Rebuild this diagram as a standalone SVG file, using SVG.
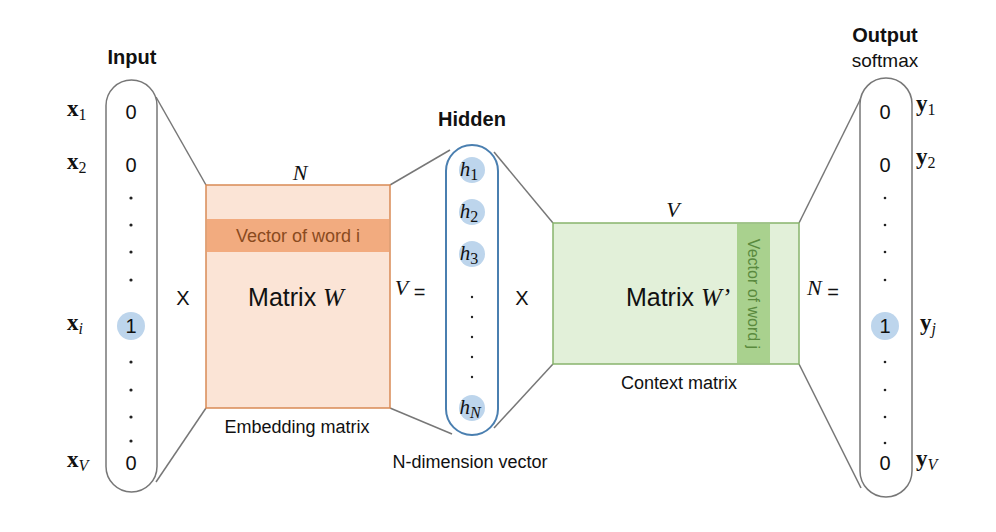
<svg xmlns="http://www.w3.org/2000/svg" width="996" height="532" viewBox="0 0 996 532">
<style>
.sans{font-family:"Liberation Sans",Arial,sans-serif;fill:#111}
.b{font-weight:bold}
.math{font-family:"Liberation Serif","Times New Roman",serif;fill:#111}
.mb{font-family:"Liberation Serif","Times New Roman",serif;font-weight:bold;fill:#111;font-size:23px}
.sub{font-family:"Liberation Serif","Times New Roman",serif;font-style:italic;font-weight:normal;font-size:16px}
.subn{font-family:"Liberation Serif","Times New Roman",serif;font-style:normal;font-weight:normal;font-size:16px}
.pill{fill:#fff;stroke:#777;stroke-width:1.5}
.conn{stroke:#777;stroke-width:1.5;fill:none}
.dot{fill:#222}
.hl{fill:#bdd5ec}
.val{font-family:"Liberation Sans",Arial,sans-serif;font-size:20px;fill:#111;text-anchor:middle}
</style>
<rect width="996" height="532" fill="#fff"/>
<g id="connectors">
<line class="conn" x1="156" y1="97" x2="206" y2="185"/>
<line class="conn" x1="156" y1="482" x2="206" y2="408"/>
<line class="conn" x1="390" y1="185" x2="450" y2="150"/>
<line class="conn" x1="390" y1="408" x2="452" y2="434"/>
<line class="conn" x1="494" y1="152" x2="553" y2="223"/>
<line class="conn" x1="494" y1="428" x2="553" y2="364"/>
<line class="conn" x1="861" y1="98" x2="799" y2="223"/>
<line class="conn" x1="861" y1="488" x2="799" y2="364"/>
</g>
<g id="input">
<text class="sans b" x="132" y="64" font-size="20" text-anchor="middle">Input</text>
<rect class="pill" x="106" y="80" width="51" height="412" rx="25.5"/>
<text class="val" x="131" y="119">0</text>
<text class="val" x="131" y="172">0</text>
<circle class="dot" cx="131" cy="198" r="1.6"/><circle class="dot" cx="131" cy="225" r="1.6"/><circle class="dot" cx="131" cy="252" r="1.6"/><circle class="dot" cx="131" cy="280" r="1.6"/>
<circle class="hl" cx="131" cy="326" r="14"/>
<text class="val" x="131" y="333">1</text>
<circle class="dot" cx="131" cy="362" r="1.6"/><circle class="dot" cx="131" cy="390" r="1.6"/><circle class="dot" cx="131" cy="417" r="1.6"/><circle class="dot" cx="131" cy="441" r="1.6"/>
<text class="val" x="131" y="470">0</text>
<text class="mb" x="67" y="116">x<tspan class="subn" dy="4">1</tspan></text>
<text class="mb" x="67" y="169">x<tspan class="subn" dy="4">2</tspan></text>
<text class="mb" x="67" y="330">x<tspan class="sub" dy="4">i</tspan></text>
<text class="mb" x="67" y="467">x<tspan class="sub" dy="4">V</tspan></text>
</g>
<text class="sans" x="183" y="305" font-size="20" text-anchor="middle">X</text>
<g id="embedding">
<rect x="206" y="185" width="184" height="223" fill="#fbe4d6" stroke="#d98a55" stroke-width="1.5"/>
<rect x="207" y="219" width="182" height="33" fill="#f2ab7f"/>
<text class="math" x="300" y="180" font-size="22" font-style="italic" text-anchor="middle">N</text>
<text class="sans" x="298" y="242" font-size="18" style="fill:#8a4a1e" text-anchor="middle">Vector of word i</text>
<text class="sans" x="296" y="306" font-size="25" text-anchor="middle">Matrix <tspan class="math" font-style="italic">W</tspan></text>
<text class="sans" x="297" y="433" font-size="18" text-anchor="middle">Embedding matrix</text>
</g>
<text x="410" y="295" font-size="22" text-anchor="middle"><tspan class="math" font-style="italic">V</tspan><tspan class="sans" font-size="20" dy="4"> =</tspan></text>
<g id="hidden">
<text class="sans b" x="472" y="126" font-size="20" text-anchor="middle">Hidden</text>
<rect x="446" y="145" width="52" height="290" rx="26" fill="#fff" stroke="#4a7fb0" stroke-width="2"/>
<circle class="hl" cx="472" cy="170" r="13"/>
<circle class="hl" cx="472" cy="212" r="13"/>
<circle class="hl" cx="472" cy="254" r="13"/>
<circle class="hl" cx="472" cy="408" r="13"/>
<text class="math" x="469" y="176" font-size="21" font-style="italic" text-anchor="middle">h<tspan class="subn" dy="4">1</tspan></text>
<text class="math" x="469" y="218" font-size="21" font-style="italic" text-anchor="middle">h<tspan class="subn" dy="4">2</tspan></text>
<text class="math" x="469" y="260" font-size="21" font-style="italic" text-anchor="middle">h<tspan class="subn" dy="4">3</tspan></text>
<text class="math" x="470" y="414" font-size="21" font-style="italic" text-anchor="middle">h<tspan class="sub" dy="4">N</tspan></text>
<circle class="dot" cx="472" cy="297" r="1.2"/><circle class="dot" cx="472" cy="317" r="1.2"/><circle class="dot" cx="472" cy="337" r="1.2"/><circle class="dot" cx="472" cy="357" r="1.2"/><circle class="dot" cx="472" cy="377" r="1.2"/>
<text class="sans" x="470" y="468" font-size="18" text-anchor="middle">N-dimension vector</text>
</g>
<text class="sans" x="522" y="305" font-size="20" text-anchor="middle">X</text>
<g id="context">
<rect x="553" y="223" width="246" height="141" fill="#e2f0d9" stroke="#88b46c" stroke-width="1.5"/>
<rect x="737" y="224" width="33" height="139" fill="#a9d18e"/>
<text class="math" x="673" y="217" font-size="22" font-style="italic" text-anchor="middle">V</text>
<text class="sans" x="678" y="306" font-size="25" text-anchor="middle">Matrix <tspan class="math" font-style="italic">W’</tspan></text>
<text class="sans" font-size="16" text-anchor="middle" transform="translate(748,294) rotate(90)" style="fill:#5a8a3e">Vector of word j</text>
<text class="sans" x="679" y="389" font-size="18" text-anchor="middle">Context matrix</text>
</g>
<text x="823" y="295" font-size="22" text-anchor="middle"><tspan class="math" font-style="italic">N</tspan><tspan class="sans" font-size="20" dy="4"> =</tspan></text>
<g id="output">
<text class="sans b" x="885" y="42" font-size="20" text-anchor="middle">Output</text>
<text class="sans" x="885" y="67" font-size="19" text-anchor="middle">softmax</text>
<rect class="pill" x="860" y="78" width="52" height="419" rx="26"/>
<text class="val" x="885" y="119">0</text>
<text class="val" x="885" y="172">0</text>
<circle class="dot" cx="885" cy="198" r="1.3"/><circle class="dot" cx="885" cy="225" r="1.3"/><circle class="dot" cx="885" cy="252" r="1.3"/><circle class="dot" cx="885" cy="280" r="1.3"/>
<circle class="hl" cx="885" cy="326" r="14"/>
<text class="val" x="885" y="333">1</text>
<circle class="dot" cx="885" cy="362" r="1.3"/><circle class="dot" cx="885" cy="390" r="1.3"/><circle class="dot" cx="885" cy="417" r="1.3"/><circle class="dot" cx="885" cy="443" r="1.3"/>
<text class="val" x="885" y="470">0</text>
<text class="mb" x="916" y="111">y<tspan class="subn" dy="4">1</tspan></text>
<text class="mb" x="916" y="164">y<tspan class="subn" dy="4">2</tspan></text>
<text class="mb" x="920" y="330">y<tspan class="sub" dy="4">j</tspan></text>
<text class="mb" x="916" y="466">y<tspan class="sub" dy="4">V</tspan></text>
</g>
</svg>
